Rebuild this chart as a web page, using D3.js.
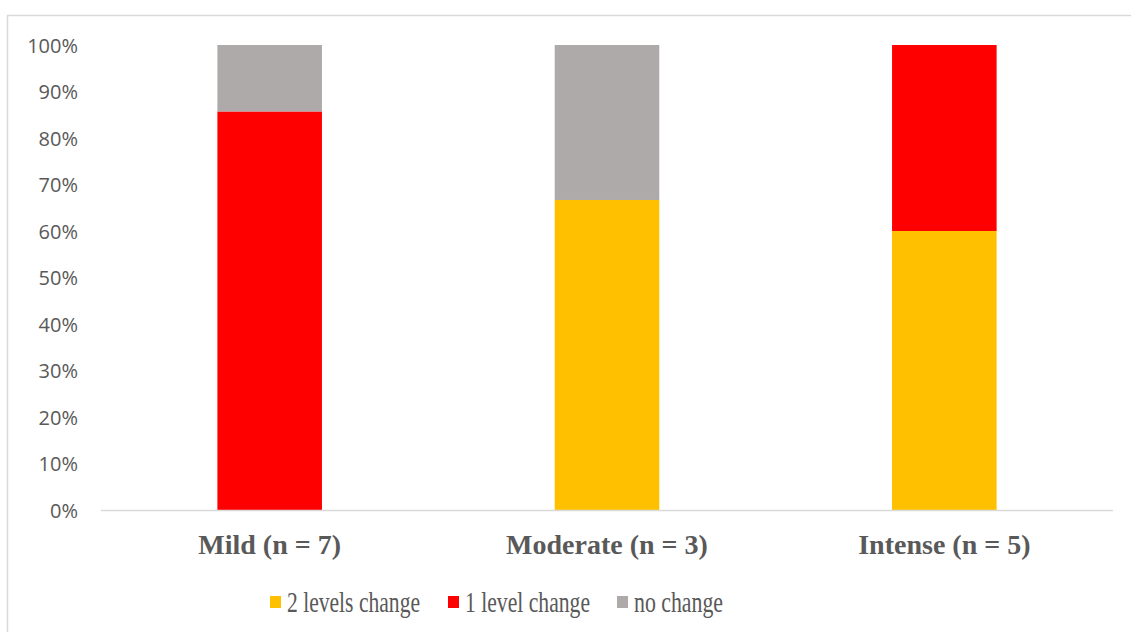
<!DOCTYPE html>
<html>
<head>
<meta charset="utf-8">
<script src="https://cdn.jsdelivr.net/npm/d3@7"></script>
<style>
	body { margin: 0; background: #fff; }
	svg { display: block; }
</style>
</head>
<body>
<div id="chart"></div>
<script>
var categories = ['Mild (n = 7)', 'Moderate (n = 3)', 'Intense (n = 5)'];
var seriesNames = ['2 levels change', '1 level change', 'no change'];
var twoLevels = [0, 66.67, 60];
var oneLevel = [85.71, 0, 40];
var noChange = [14.29, 33.33, 0];
var colors = ['#FFC000', '#FF0000', '#AEAAAA'];
var yTicks = [0, 10, 20, 30, 40, 50, 60, 70, 80, 90, 100];

var w = 1131, h = 632;
var plotLeft = 101, plotRight = 1113, plotTop = 45, plotBottom = 510;

var svg = d3.select('#chart').append('svg')
	.attr('width', w)
	.attr('height', h);

// chart frame
svg.append('rect')
	.attr('x', 7.5).attr('y', 15.5)
	.attr('width', w + 10).attr('height', h + 10)
	.attr('fill', 'none')
	.attr('stroke', '#d9d9d9')
	.attr('stroke-width', 1.5);

var x = d3.scaleBand().domain(categories).range([plotLeft, plotRight]).paddingInner(0.69).paddingOuter(0.345);
var y = d3.scaleLinear().domain([0, 100]).range([plotBottom, plotTop]);

var rows = categories.map(function(c, i){
	return {cat: c, s0: twoLevels[i], s1: oneLevel[i], s2: noChange[i]};
});
var stack = d3.stack().keys(['s0', 's1', 's2'])(rows);

svg.selectAll('g.series')
	.data(stack)
	.enter()
	.append('g')
	.attr('fill', function(d, i){ return colors[i]; })
	.selectAll('rect')
	.data(function(d){ return d; })
	.enter()
	.append('rect')
	.attr('x', function(d){ return x(d.data.cat); })
	.attr('width', x.bandwidth())
	.attr('y', function(d){ return y(d[1]); })
	.attr('height', function(d){ return y(d[0]) - y(d[1]); });

// baseline
svg.append('line')
	.attr('x1', plotLeft).attr('x2', plotRight)
	.attr('y1', y(0) + 0.5).attr('y2', y(0) + 0.5)
	.attr('stroke', '#d9d9d9')
	.attr('stroke-width', 1.5);

// y labels
var yAxis = d3.axisLeft(y).tickValues(yTicks).tickSize(0).tickPadding(0)
	.tickFormat(function(d){ return d + '%'; });
var gy = svg.append('g').attr('transform', 'translate(78,0)').call(yAxis);
gy.select('.domain').remove();
gy.selectAll('text')
	.attr('fill', '#595959')
	.style('font-family', '"Open Sans", sans-serif')
	.style('font-size', '20px')
	.attr('dy', '0.35em');

// x labels
var xAxis = d3.axisBottom(x).tickSize(0).tickPadding(0);
var gx = svg.append('g').attr('transform', 'translate(0,' + plotBottom + ')').call(xAxis);
gx.select('.domain').remove();
gx.selectAll('text')
	.attr('fill', '#595959')
	.attr('y', 44)
	.attr('dy', 0)
	.style('font-family', '"Liberation Serif", "Times New Roman", serif')
	.style('font-weight', 'bold')
	.style('font-size', '28px');

// legend
var legendX = [270, 448, 617];
var legendW = [133, 125, 89];
var legend = svg.selectAll('g.legend')
	.data(seriesNames)
	.enter()
	.append('g')
	.attr('class', 'legend')
	.attr('transform', function(d, i){ return 'translate(' + legendX[i] + ',596)'; });

legend.append('rect')
	.attr('width', 11).attr('height', 12)
	.attr('fill', function(d, i){ return colors[i]; });

legend.append('text')
	.attr('x', 17).attr('y', 16)
	.attr('fill', '#595959')
	.attr('textLength', function(d, i){ return legendW[i]; })
	.attr('lengthAdjust', 'spacingAndGlyphs')
	.style('font-family', '"Liberation Serif", "Times New Roman", serif')
	.style('font-size', '29px')
	.text(function(d){ return d; });
</script>
</body>
</html>
